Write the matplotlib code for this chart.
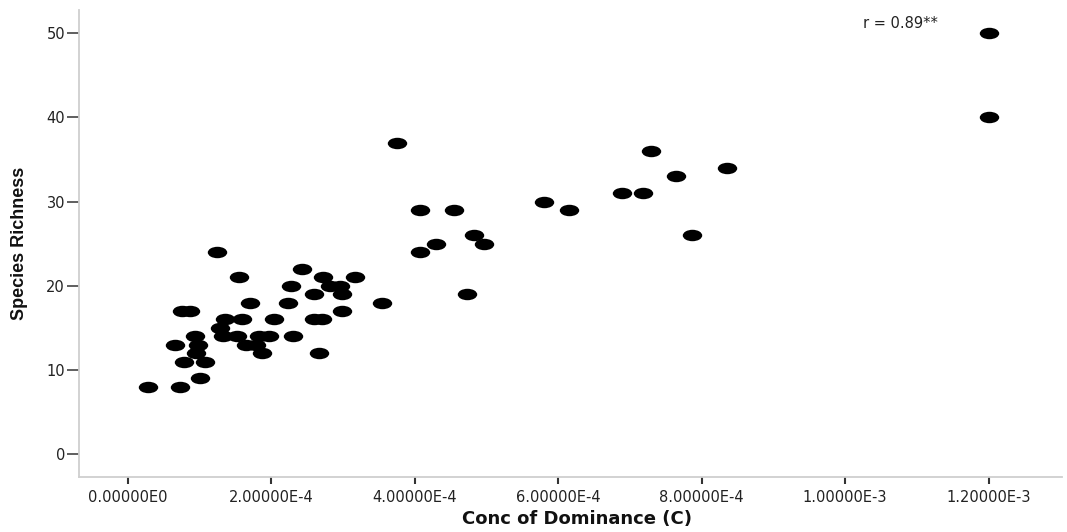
import numpy as np
import matplotlib
matplotlib.use("Agg")
import matplotlib.pyplot as plt
from matplotlib.path import Path
from matplotlib.transforms import Affine2D

# concentration of dominance (units of 1e-4) and species richness per plot
conc_e4 = [0.283, 0.73,
           1.00,
           0.775, 1.074,
           0.945, 1.865, 2.665,
           0.655, 0.97, 1.65, 1.79,
           0.93, 1.33, 1.515, 1.83, 1.96, 2.305,
           1.28,
           1.35, 1.585, 2.03, 2.59, 2.71,
           0.75, 0.87, 2.98,
           1.70, 2.235, 3.545,
           2.59, 2.98, 4.73,
           2.27, 2.82, 2.955,
           1.55, 2.72, 3.165,
           2.43,
           1.245, 4.07,
           4.29, 4.965,
           4.825, 7.87,
           4.07, 4.55, 6.15,
           5.795,
           6.895, 7.18,
           7.64,
           8.35,
           7.29,
           3.745,
           12.0,
           12.0]
richness = [8, 8,
            9,
            11, 11,
            12, 12, 12,
            13, 13, 13, 13,
            14, 14, 14, 14, 14, 14,
            15,
            16, 16, 16, 16, 16,
            17, 17, 17,
            18, 18, 18,
            19, 19, 19,
            20, 20, 20,
            21, 21, 21,
            22,
            24, 24,
            25, 25,
            26, 26,
            29, 29, 29,
            30,
            31, 31,
            33,
            34,
            36,
            37,
            40,
            50]

xticks = [0, 2e-4, 4e-4, 6e-4, 8e-4, 1e-3, 1.2e-3]
xtick_labels = ["0.00000E0", "2.00000E-4", "4.00000E-4", "6.00000E-4",
                "8.00000E-4", "1.00000E-3", "1.20000E-3"]
yticks = [0, 10, 20, 30, 40, 50]

x = np.array(conc_e4) * 1e-4
y = np.array(richness)

fig = plt.figure(figsize=(10.67, 5.32), dpi=100)
ax = fig.add_axes([0.074, 0.1028, 0.921, 0.878])

# flattened dots
ell = Path.unit_circle().transformed(Affine2D().scale(1.7, 1.0))
ax.scatter(x, y, marker=ell, s=196, c="black", linewidths=0)

ax.set_xlim(-6.83e-5, 1.302e-3)
ax.set_ylim(-2.73, 52.7)

ax.set_xticks(xticks)
ax.set_xticklabels(xtick_labels)
ax.set_yticks(yticks)

for side in ["top", "right"]:
    ax.spines[side].set_visible(False)
for side in ["left", "bottom"]:
    ax.spines[side].set_color("#cfcfcf")
    ax.spines[side].set_linewidth(1.3)

ax.tick_params(axis="y", direction="out", length=8.5, width=1.1,
               color="#333333", pad=1.5, labelsize=10.5, labelcolor="#222222")
ax.tick_params(axis="x", direction="out", length=5, width=1.5,
               color="#333333", pad=4, labelsize=10.5, labelcolor="#222222")

ax.set_xlabel("Conc of Dominance (C)", fontsize=13, fontweight="bold",
              color="#111111")
ax.xaxis.set_label_coords(0.507, -0.07)
ax.set_ylabel("Species Richness", fontsize=13, fontweight="bold",
              family=["Liberation Sans", "DejaVu Sans"], color="#111111")
ax.yaxis.set_label_coords(-0.052, 0.5)

ax.text(11.29e-4, 51.15, "r = 0.89**", ha="right", va="center",
        fontsize=10.5, color="#222222")

fig.savefig("out.png", dpi=100)
